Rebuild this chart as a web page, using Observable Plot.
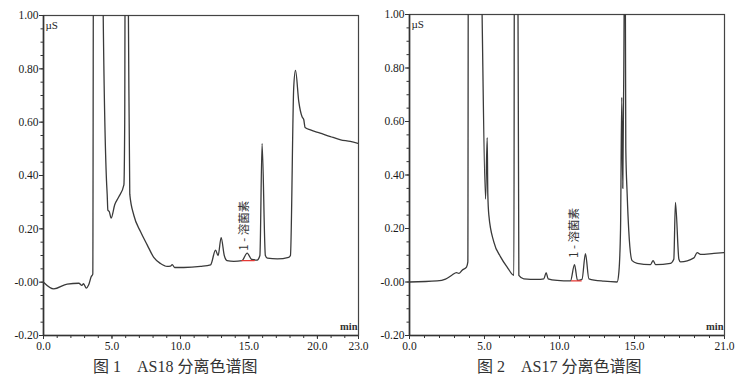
<!DOCTYPE html>
<html>
<head>
<meta charset="utf-8">
<script src="https://cdn.jsdelivr.net/npm/d3@7"></script>
<script src="https://cdn.jsdelivr.net/npm/@observablehq/plot@0.6"></script>
<style>
  body { margin: 0; background: #fff; }
  #wrap { position: relative; width: 749px; height: 377px; overflow: hidden; }
  .panel { position: absolute; top: 0; }
  .cap { position: absolute; top: 353px; font-family: "Liberation Serif", "Noto Sans CJK SC", serif; font-size: 16px; color: #333; white-space: pre; }
</style>
</head>
<body>
<div id="wrap">
  <div id="left" class="panel" style="left:0px"></div>
  <div id="right" class="panel" style="left:370px"></div>
  <div id="cap1" class="cap" style="left:93px"></div>
  <div id="cap2" class="cap" style="left:477px"></div>
</div>
<script>
// ---- AS18 chromatogram (time in min, signal in µS) ----
const as18Time = [0, 0.75, 1.73, 2.58, 2.8, 2.92, 3.13, 3.3, 3.48, 3.6, 3.66, 4.25, 4.36, 4.6, 4.65, 4.7, 4.8, 4.94, 5.2, 5.5, 5.87, 5.93, 5.98, 6.1, 6.2, 6.3, 6.6, 7.08, 7.57, 8.05, 8.54, 9.03, 9.27, 9.4, 9.57, 10.24, 11.46, 12.2, 12.56, 12.75, 12.97, 13.2, 13.4, 13.9, 14.5, 14.87, 15.2, 15.6, 15.8, 15.96, 16.2, 16.35, 17.07, 17.9, 18.03, 18.27, 18.4, 18.64, 18.88, 19.0, 19.1, 19.49, 20.2, 20.95, 21.7, 22.4, 22.97];
const as18Signal = [0.0, -0.025, -0.007, -0.004, -0.012, -0.006, -0.022, -0.01, 0.02, 0.03, 1.6, 1.6, 1.0, 0.38, 0.33, 0.27, 0.265, 0.24, 0.29, 0.32, 0.365, 0.6, 1.6, 1.6, 1.0, 0.33, 0.25, 0.19, 0.14, 0.093, 0.07, 0.059, 0.06, 0.066, 0.055, 0.055, 0.059, 0.065, 0.12, 0.10, 0.167, 0.10, 0.081, 0.078, 0.081, 0.109, 0.085, 0.083, 0.10, 0.52, 0.10, 0.09, 0.087, 0.093, 0.10, 0.73, 0.794, 0.677, 0.62, 0.61, 0.58, 0.571, 0.559, 0.546, 0.534, 0.528, 0.52];
const as18BaseTime = [14.48, 15.4];
const as18BaseSignal = [0.081, 0.081];

// ---- AS17 chromatogram ----
const as17Time = [0, 1.84, 2.4, 2.84, 3.13, 3.29, 3.51, 3.8, 3.89, 3.93, 4.7, 4.84, 5.07, 5.18, 5.22, 5.29, 5.62, 6.07, 6.51, 6.96, 7.0, 7.2, 7.29, 7.62, 8.51, 8.96, 9.11, 9.24, 9.84, 10.73, 11.0, 11.2, 11.5, 11.73, 11.96, 12.96, 13.84, 13.96, 14.07, 14.15, 14.22, 14.3, 14.36, 14.42, 14.51, 14.62, 14.84, 15.18, 16.07, 16.24, 16.4, 17.4, 17.62, 17.73, 17.96, 18.07, 18.96, 19.18, 19.4, 20.29, 20.96];
const as17Signal = [0.0, 0.004, 0.011, 0.026, 0.035, 0.032, 0.044, 0.056, 0.075, 1.6, 1.6, 1.0, 0.31, 0.54, 0.33, 0.25, 0.15, 0.094, 0.056, 0.025, 1.6, 1.6, 0.025, 0.012, 0.01, 0.012, 0.035, 0.012, 0.006, 0.004, 0.065, 0.006, 0.01, 0.106, 0.012, 0.003, 0.0, 0.038, 0.2, 0.69, 0.35, 0.92, 1.6, 0.5, 0.33, 0.19, 0.08, 0.07, 0.065, 0.08, 0.065, 0.07, 0.085, 0.298, 0.085, 0.075, 0.09, 0.11, 0.103, 0.107, 0.11];
const as17BaseTime = [10.8, 11.44];
const as17BaseSignal = [0.004, 0.004];

// ---- axes / labels ----
const yMajorTicks = [-0.2, 0, 0.2, 0.4, 0.6, 0.8, 1.0];
const yMinorTicks = d3.range(-20, 101, 5).map(d => d / 100);
const as18XTicks = [0, 5, 10, 15, 20, 23];
const as17XTicks = [0, 5, 10, 15, 21];
const as18XMinor = d3.range(0, 24);
const as17XMinor = d3.range(0, 22);
const as18XMax = 23;
const as17XMax = 21;
const peakLabel = "1 - 溶菌素";
const as18PeakLabelAt = [14.65, 0.118];
const as17PeakLabelAt = [11.0, 0.09];
const yUnit = "µS";
const xUnit = "min";
const caption1 = "图 1　AS18 分离色谱图";
const caption2 = "图 2　AS17 分离色谱图";

const serif = "Liberation Serif, Times New Roman, serif";
const cjk = "Noto Sans CJK SC, sans-serif";
const yFmt = d => (Math.abs(d) < 1e-9 ? "-0.00" : d.toFixed(2));
const xFmt = d => d.toFixed(1);

function chart({time, signal, baseT, baseS, xMax, xTicks, xMinor, labelAt, width, ml, mr, mt}) {
  const data = time.map((t, i) => ({t, v: signal[i]}));
  const base = baseT.map((t, i) => ({t, v: baseS[i]}));
  return Plot.plot({
    width, height: 355,
    marginLeft: ml, marginRight: mr, marginTop: mt, marginBottom: 20,
    style: {fontFamily: serif, fontSize: "11.5px", color: "#222", background: "#fff"},
    x: {domain: [0, xMax], label: null},
    y: {domain: [-0.2, 1.0], label: null},
    marks: [
      Plot.axisY({ticks: yMinorTicks, tickSize: 2.5, text: null, stroke: "#333"}),
      Plot.axisY({ticks: yMajorTicks, tickSize: 4, tickFormat: yFmt, tickPadding: 1, stroke: "#333", fill: "#1a1a1a", fontSize: 11.5}),
      Plot.axisX({ticks: xMinor, tickSize: 3, text: null, stroke: "#333"}),
      Plot.axisX({ticks: xTicks, tickSize: 4, tickFormat: xFmt, tickPadding: 2, stroke: "#333", fill: "#1a1a1a", fontSize: 11.5}),
      Plot.frame({stroke: "#444", strokeWidth: 1.2}),
      Plot.ruleX([0], {stroke: "#333", strokeWidth: 1.6}),
      Plot.ruleY([-0.2], {stroke: "#333", strokeWidth: 1.6}),
      Plot.line(data, {x: "t", y: "v", stroke: "#3a3a3a", strokeWidth: 1.3, curve: "monotone-x", clip: true}),
      Plot.line(base, {x: "t", y: "v", stroke: "#e53935", strokeWidth: 1.3}),
      Plot.text([labelAt], {x: d => d[0], y: d => d[1], text: () => peakLabel, rotate: -90, textAnchor: "start", fontFamily: cjk, fontSize: 11.5, fill: "#333"}),
      Plot.text([yUnit], {frameAnchor: "top-left", text: d => d, dx: 2, dy: 6, fontFamily: serif, fontSize: 11, fill: "#222"}),
      Plot.text([xUnit], {frameAnchor: "bottom-right", text: d => d, dx: -1, dy: -6, fontFamily: serif, fontSize: 10.5, fontWeight: "bold", fill: "#333"})
    ]
  });
}

document.getElementById("left").append(chart({
  time: as18Time, signal: as18Signal, baseT: as18BaseTime, baseS: as18BaseSignal,
  xMax: as18XMax, xTicks: as18XTicks, xMinor: as18XMinor, labelAt: as18PeakLabelAt,
  width: 370, ml: 43, mr: 12, mt: 15
}));
document.getElementById("right").append(chart({
  time: as17Time, signal: as17Signal, baseT: as17BaseTime, baseS: as17BaseSignal,
  xMax: as17XMax, xTicks: as17XTicks, xMinor: as17XMinor, labelAt: as17PeakLabelAt,
  width: 379, ml: 39, mr: 25, mt: 14
}));
document.getElementById("cap1").textContent = caption1;
document.getElementById("cap2").textContent = caption2;
</script>
</body>
</html>
